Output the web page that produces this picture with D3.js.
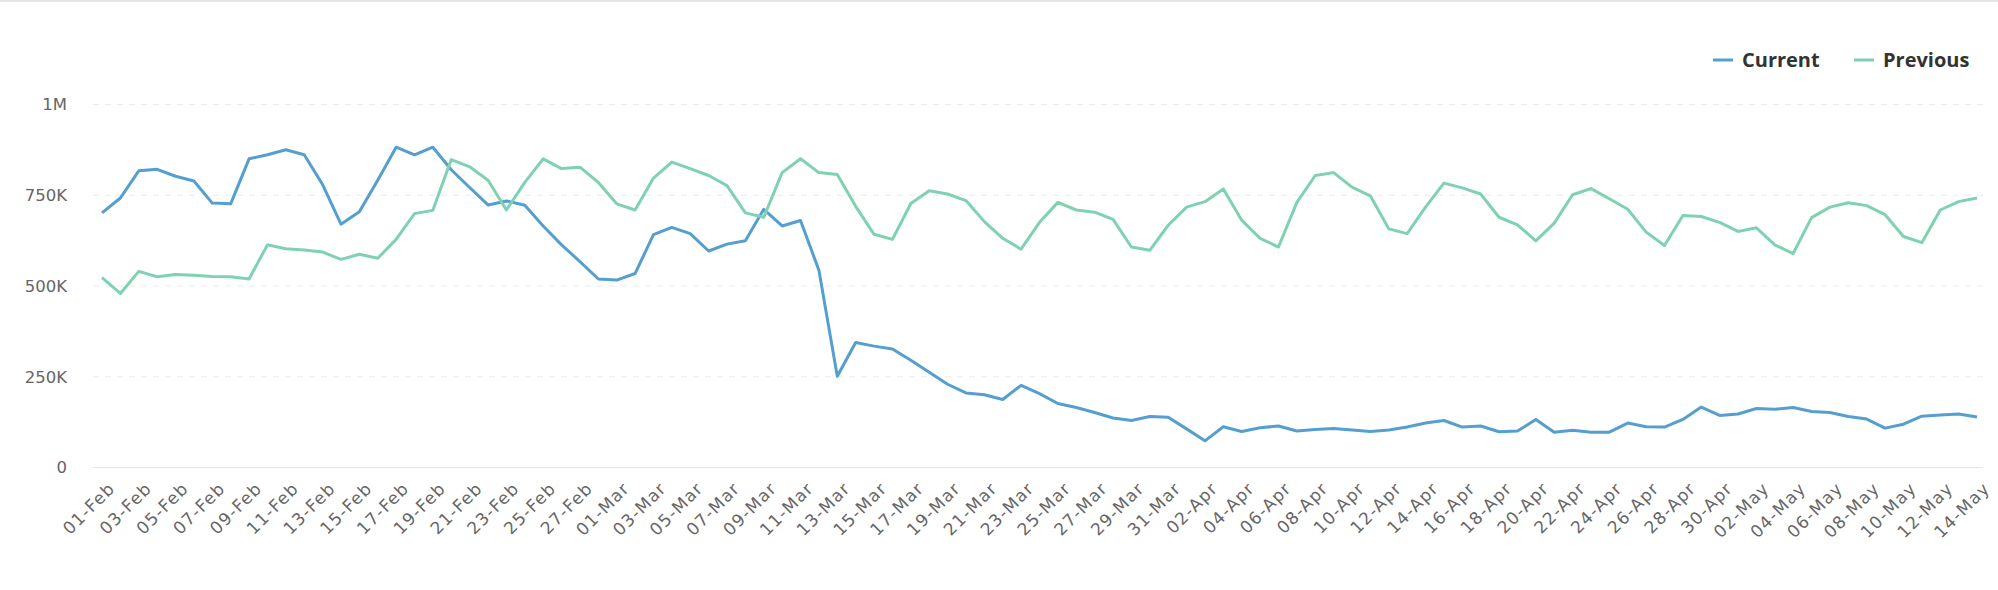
<!DOCTYPE html>
<html>
<script src="https://d3js.org/d3.v7.min.js"></script>
<style>
  html, body { margin: 0; padding: 0; background: #fff; }
  body { width: 1998px; height: 590px; overflow: hidden; border-top: 2px solid #e6e6e6; box-sizing: border-box; }
  text { font-family: "DejaVu Sans", sans-serif; }
  .legend text { font-family: "Open Sans", sans-serif; }
</style>
<body>
<div id="vis"></div>
<script>
// daily dates, 01-Feb .. 14-May
var months = ['Feb', 'Mar', 'Apr', 'May'];
var monthDays = [28, 31, 30, 14];

var current = [
  700, 741, 816, 820, 801, 788, 727, 725, 849, 860, 874, 860, 778, 669, 703, 790, 881, 860, 881, 819,
  770, 722, 733, 721, 664, 612, 566, 518, 515, 533, 640, 660, 643, 595, 614, 623, 710, 664, 679, 542,
  250, 343, 333, 325, 294, 261, 228, 204, 199, 186, 225, 202, 175, 164, 150, 135, 128, 139, 137, 105,
  72, 111, 98, 108, 113, 99, 103, 106, 102, 98, 102, 110, 121, 128, 110, 113, 97, 99, 131, 96,
  101, 96, 96, 121, 111, 110, 131, 165, 142, 146, 161, 159, 164, 153, 150, 139, 132, 107, 118, 140,
  143, 146, 138
];

var previous = [
  522, 478, 539, 524, 530, 528, 525, 524, 518, 612, 601, 598, 592, 572, 586, 575, 627, 698, 707, 847,
  827, 790, 708, 784, 849, 822, 826, 784, 725, 708, 796, 840, 822, 803, 775, 700, 688, 811, 849, 811,
  806, 718, 641, 627, 726, 761, 752, 734, 676, 630, 600, 674, 729, 708, 702, 682, 606, 597, 666, 716,
  731, 766, 680, 630, 606, 729, 803, 811, 771, 747, 656, 643, 716, 782, 769, 752, 688, 667, 623, 672,
  750, 767, 739, 710, 647, 610, 693, 690, 674, 649, 659, 612, 588, 687, 716, 728, 720, 695, 635, 618,
  708, 731, 741
];

var yTicks = [0, 250, 500, 750, 1000];
var yTickLabels = ['0', '250K', '500K', '750K', '1M'];

var seriesNames = ['Current', 'Previous'];
var seriesColors = ['#549fd0', '#7fd2b1'];

var days = [];
months.forEach(function(m, mi) {
  for (var d = 1; d <= monthDays[mi]; d++) {
    days.push((d < 10 ? '0' + d : '' + d) + '-' + m);
  }
});

var width = 1998, height = 590;
var margin = { top: 104, bottom: 123, left: 93, right: 15 };

var svg = d3.select('#vis')
  .append('svg')
  .attr('width', width)
  .attr('height', height - 2);

var x_scale = d3.scalePoint()
  .domain(days)
  .range([102, 1977]);

var y_scale = d3.scaleLinear()
  .domain([0, 1000])
  .range([465, 102]);

// grid lines
svg.append('g')
  .selectAll('line')
  .data(yTicks)
  .enter()
  .append('line')
  .attr('x1', margin.left)
  .attr('x2', width - margin.right)
  .attr('y1', function(d) { return y_scale(d) + 0.5; })
  .attr('y2', function(d) { return y_scale(d) + 0.5; })
  .attr('stroke', function(d) { return d == 0 ? '#e3e3e3' : '#ebebeb'; })
  .attr('stroke-width', 1)
  .attr('stroke-dasharray', function(d) { return d == 0 ? null : '6,6'; });

// y axis labels
var y_axis = d3.axisLeft(y_scale)
  .tickValues(yTicks)
  .tickFormat(function(d, i) { return yTickLabels[i]; })
  .tickSize(0)
  .tickPadding(0);

svg.append('g')
  .attr('class', 'y axis')
  .attr('transform', 'translate(67,0)')
  .call(y_axis)
  .call(function(g) { g.select('.domain').remove(); })
  .selectAll('text')
  .attr('font-size', '16.5px')
  .attr('fill', '#666')
  .attr('dy', '0.35em');

// x axis labels, every other day
var x_axis = d3.axisBottom(x_scale)
  .tickValues(days.filter(function(d, i) { return i % 2 == 0; }))
  .tickSize(0)
  .tickPadding(0);

svg.append('g')
  .attr('class', 'x axis')
  .attr('transform', 'translate(0,479)')
  .call(x_axis)
  .call(function(g) { g.select('.domain').remove(); })
  .selectAll('text')
  .attr('font-size', '17px')
  .attr('letter-spacing', '1.2px')
  .attr('fill', '#666')
  .attr('text-anchor', 'end')
  .attr('dy', '0.7em')
  .attr('transform', 'translate(5,0) rotate(-45)');

// lines
var line = d3.line()
  .x(function(d, i) { return x_scale(days[i]); })
  .y(function(d) { return y_scale(d); });

[current, previous].forEach(function(s, si) {
  svg.append('path')
    .datum(s)
    .attr('fill', 'none')
    .attr('stroke', seriesColors[si])
    .attr('stroke-width', 3)
    .attr('stroke-linejoin', 'round')
    .attr('d', line);
});

// legend
var legendX = [1713, 1854];
var legend = svg.append('g').attr('class', 'legend');
seriesNames.forEach(function(n, i) {
  legend.append('line')
    .attr('x1', legendX[i])
    .attr('x2', legendX[i] + 20)
    .attr('y1', 58)
    .attr('y2', 58)
    .attr('stroke', seriesColors[i])
    .attr('stroke-width', 3);
  legend.append('text')
    .attr('x', legendX[i] + 29)
    .attr('y', 65)
    .attr('font-size', '20px')
    .attr('font-weight', 'bold')
    .attr('fill', '#333')
    .text(n);
});
</script>
</body>
</html>
